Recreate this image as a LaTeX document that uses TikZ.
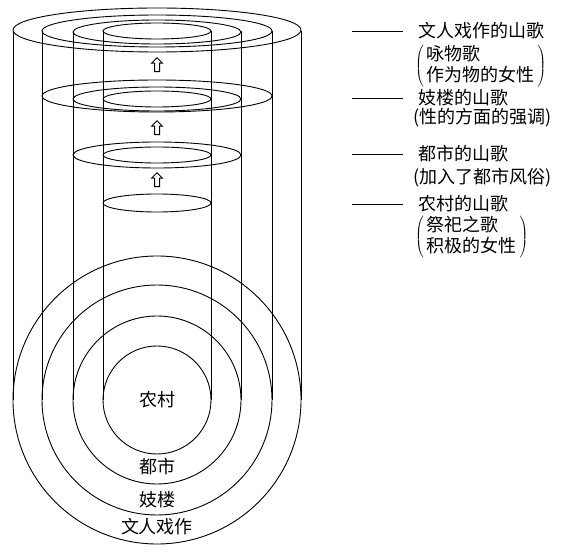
\documentclass[tikz,border=0pt]{standalone}
\usepackage{fontspec}
\setmainfont{Noto Sans CJK SC}
\usetikzlibrary{shapes.arrows}

\tikzset{
  ring/.style={line width=0.9pt},
  uparrow/.style={single arrow, draw, line width=1pt, shape border rotate=90,
    minimum height=14pt, inner sep=2pt, single arrow head extend=3pt},
  layertext/.style={inner sep=0pt, font=\fontsize{18pt}{20pt}\selectfont},
  notetext/.style={inner sep=0pt, anchor=west, font=\fontsize{18pt}{20pt}\selectfont},
}
\newcommand{\twolines}[2]{$\left(\,\def\arraystretch{0.9}%
  \begin{tabular}{@{}l@{}}#1\\#2\end{tabular}\,\right)$}

\begin{document}
\begin{tikzpicture}[x=1pt,y=-1pt]
  \useasboundingbox (0,0) rectangle (566,553);

  % cylinders and their base circles
  \foreach \r in {144,115,84,54} {
    \draw[ring] (157-\r,31) -- (157-\r,400);
    \draw[ring] (157+\r,31) -- (157+\r,400);
    \draw[ring] (157,400) circle[radius=\r pt];
  }

  % top level
  \draw[ring] (157,30) ellipse[x radius=144pt, y radius=22pt];
  \draw[ring] (157,31) ellipse[x radius=115pt, y radius=16pt];
  \draw[ring] (157,32) ellipse[x radius=84pt, y radius=12pt];
  \draw[ring] (157,31) ellipse[x radius=54pt, y radius=8pt];
  % second level
  \draw[ring] (157,96) ellipse[x radius=115pt, y radius=16pt];
  \draw[ring] (157,99) ellipse[x radius=84pt, y radius=12pt];
  \draw[ring] (157,99) ellipse[x radius=54pt, y radius=8pt];
  % third level
  \draw[ring] (157,155) ellipse[x radius=84pt, y radius=13pt];
  \draw[ring] (157,155) ellipse[x radius=54pt, y radius=8pt];
  % fourth level
  \draw[ring] (157,203) ellipse[x radius=54pt, y radius=9pt];

  \node[uparrow] (a1) at (157,66) {};
  \node[uparrow] (a2) at (157,129) {};
  \node[uparrow] (a3) at (157,181) {};

  % names of the layers
  \node[layertext] (nongcun) at (157,400) {农村};
  \node[layertext] (dushi) at (157,467) {都市};
  \node[layertext] (jilou) at (157,500) {妓楼};
  \node[layertext] (wenren) at (157,527) {文人戏作};

  % notes on the right
  \node[notetext] (t1) at (418,31) {文人戏作的山歌};
  \node[notetext] (d1) at (415,66) {\twolines{咏物歌}{作为物的女性}};
  \node[notetext] (t2) at (418,98) {妓楼的山歌};
  \node[notetext] (d2) at (413,118) {(性的方面的强调)};
  \node[notetext] (t3) at (418,154) {都市的山歌};
  \node[notetext] (d3) at (413,178) {(加入了都市风俗)};
  \node[notetext] (t4) at (418,204) {农村的山歌};
  \node[notetext] (d4) at (415,237) {\twolines{祭祀之歌}{积极的女性}};

  \coordinate (l1) at (352,31);
  \coordinate (l2) at (352,98);
  \coordinate (l3) at (352,154);
  \coordinate (l4) at (352,204);
  \foreach \i in {1,...,4}
    \draw[line width=0.7pt, shorten >=15pt] (l\i) -- (t\i.west);
\end{tikzpicture}
\end{document}
